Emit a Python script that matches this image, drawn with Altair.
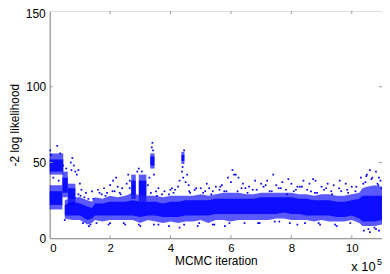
import altair as alt
import pandas as pd

# ---- data (x in units of 1e5 iterations) ----
# main dense band envelope, sampled at band_x
band_x = [0.50, 0.75, 1.00, 1.25, 1.40, 1.50, 1.75, 2.00, 2.25, 2.50, 2.75, 3.00, 3.25,
          3.50, 3.75, 4.00, 4.25, 4.50, 4.75, 5.00, 5.25, 5.50, 5.75, 6.00, 6.25,
          6.50, 6.75, 7.00, 7.25, 7.50, 7.75, 8.00, 8.25, 8.50, 8.75, 9.00, 9.25,
          9.50, 9.75, 10.00, 10.25, 10.35, 10.50, 10.75, 11.00]
band_out_lo = [13, 12, 12, 9, 10, 12, 11, 12, 12, 12, 12, 10, 12, 11, 10, 11, 10, 11, 11, 12, 10,
               12, 12, 11, 12, 12, 12, 12, 12, 13, 13, 12, 12, 12, 11, 12, 11, 11, 11, 12, 10,
               8, 8, 8, 9]
band_out_hi = [25, 27, 27, 25, 24, 27, 26, 28, 27, 28, 30, 28, 28, 28, 27, 28, 28, 28, 28, 29, 28,
               29, 30, 30, 30, 29, 29, 30, 30, 30, 30, 30, 29, 29, 28, 29, 29, 28, 28, 29, 30,
               33, 34, 35, 34]
band_in_lo = [15, 15, 15, 12, 13, 15, 15, 15, 15, 15, 15, 14, 15, 15, 14, 14, 14, 15, 15, 15, 15,
              16, 16, 16, 16, 16, 16, 16, 16, 16, 17, 16, 16, 15, 15, 15, 15, 14, 14, 15, 13,
              11, 11, 11, 12]
band_in_hi = [22, 24, 23, 21, 20, 23, 23, 24, 24, 24, 25, 24, 24, 24, 23, 24, 24, 25, 25, 25, 25,
              26, 26, 26, 26, 26, 26, 27, 27, 27, 27, 27, 26, 26, 25, 25, 25, 24, 24, 25, 26,
              28, 28, 28, 28]

# separate clusters (start, end, outer lo/hi, inner lo/hi)
cl_x0 = [0.00, 0.00, 0.42, 0.60, 2.70, 2.95, 3.33, 4.36]
cl_x1 = [0.45, 0.42, 0.60, 0.85, 2.85, 3.20, 3.47, 4.46]
cl_out_lo = [42, 19, 27, 22, 26, 24, 46, 49]
cl_out_hi = [56, 35, 44, 36, 42, 42, 56, 57]
cl_in_lo = [44, 22, 30, 26, 29, 28, 48, 51]
cl_in_hi = [52, 31, 40, 33, 38, 38, 54, 55]

# scattered samples outside the dense band
pt_x = [0.02, 0.25, 0.05, 0.35, 0.12, 0.30, 0.45, 0.70, 0.75, 0.80, 0.85, 0.90, 0.95, 0.72,
        0.55, 1.00, 1.05, 1.20, 1.40, 1.60, 1.80, 1.90, 2.00, 2.10, 2.20, 2.25, 2.40, 2.55,
        2.60, 2.65, 2.90, 2.95, 3.05, 3.25, 3.30, 3.38, 3.40, 3.42, 3.45, 3.60, 3.80, 4.00,
        4.10, 4.25, 4.30, 4.38, 4.40, 4.42, 4.45, 4.50, 4.55, 4.60, 4.80, 5.00, 5.20, 5.40,
        5.50, 5.70, 5.90, 6.00, 6.05, 6.10, 6.16, 6.25, 6.40, 6.60, 6.80, 7.00, 7.20, 7.40,
        7.50, 7.70, 7.90, 8.00, 8.20, 8.40, 8.60, 8.72, 8.80, 9.00, 9.20, 9.40, 9.60, 9.80,
        10.00, 10.30, 10.50, 10.60, 10.80, 10.90, 10.95,
        0.50, 1.30, 1.35, 2.00, 2.50, 3.00, 3.60, 4.30, 4.90, 5.40, 5.80, 6.90, 7.60, 8.20,
        8.90, 9.50, 10.40, 10.60, 10.80, 10.90,
        0.95, 1.15, 1.45, 1.65, 1.85, 2.15, 2.35, 2.65, 3.35, 3.55, 3.95, 4.15, 4.65, 4.85,
        5.15, 5.35, 5.65, 5.85, 6.35, 6.55, 6.85, 7.15, 7.35, 7.65, 7.85, 8.15, 8.35, 8.65,
        8.85, 9.15, 9.35, 9.65, 9.85, 10.15, 10.45, 10.65, 10.85,
        1.10, 1.55, 1.95, 2.45, 2.95, 3.45, 3.95, 4.45, 4.95, 5.45, 5.95, 6.45, 6.95, 7.45,
        7.95, 8.45, 8.95, 9.45, 9.95, 10.55, 10.75,
        1.02, 1.28, 1.72, 2.08, 2.32, 2.78, 3.52, 3.72, 4.05, 4.62, 5.08, 5.28, 5.62, 5.78,
        6.22, 6.48, 6.72, 7.08, 7.28, 7.58, 7.82, 8.08, 8.28, 8.52, 8.78, 9.08, 9.32, 9.58,
        9.88, 10.12, 10.38, 10.48, 10.68, 10.88, 10.98]
pt_y = [58, 61, 55, 56, 40, 38, 48, 50, 53, 48, 44, 42, 45, 45,
        46, 36, 32, 30, 31, 32, 33, 30, 35, 38, 40, 34, 33, 36,
        42, 38, 44, 46, 44, 35, 40, 60, 63, 58, 42, 33, 31, 32,
        30, 34, 38, 44, 47, 40, 58, 37, 42, 35, 32, 33, 36, 31,
        34, 35, 40, 37, 45, 42, 42, 40, 36, 34, 38, 36, 38, 42,
        35, 37, 39, 36, 34, 38, 36, 39, 38, 34, 36, 35, 38, 36,
        34, 40, 42, 45, 44, 40, 38,
        12, 8, 9, 10, 9, 8, 9, 7, 8, 9, 8, 10, 11, 9,
        10, 8, 5, 4, 6, 5,
        29, 27, 26, 30, 28, 31, 29, 33, 30, 28, 29, 32, 30, 33,
        31, 29, 34, 31, 33, 30, 32, 35, 31, 33, 29, 32, 34, 31,
        30, 33, 29, 31, 32, 34, 37, 39, 36,
        10, 10, 9, 10, 9, 9, 8, 9, 10, 9, 10, 10, 10, 11,
        10, 10, 9, 9, 10, 6, 7,
        28, 26, 29, 31, 30, 34, 31, 29, 33, 31, 30, 33, 32, 31,
        31, 33, 32, 34, 31, 33, 32, 31, 34, 32, 30, 32, 31, 33,
        30, 31, 36, 41, 40, 35, 33]

x_ticks = [0, 2, 4, 6, 8, 10]
y_ticks = [0, 50, 100]
y_top_label = [150]
in_x_ticks = [2, 4, 6, 8, 10]
in_y_ticks = [50, 100]

W, H = 335, 229
BLUE = "#0000ff"
FONT = "Liberation Sans"

band = pd.DataFrame({"x": band_x, "olo": band_out_lo, "ohi": band_out_hi,
                     "ilo": band_in_lo, "ihi": band_in_hi})
clus = pd.DataFrame({"x0": cl_x0, "x1": cl_x1, "olo": cl_out_lo, "ohi": cl_out_hi,
                     "ilo": cl_in_lo, "ihi": cl_in_hi})
pts = pd.DataFrame({"x": pt_x, "y": pt_y})

xs = alt.Scale(domain=[0, 11], nice=False, zero=False)
ys = alt.Scale(domain=[0, 150], nice=False)

xax = alt.Axis(values=x_ticks, ticks=False, domain=True, domainColor="#888888", grid=False,
               labelFont=FONT, labelFontSize=11.5, labelColor="black", labelPadding=4,
               title="MCMC iteration", titleFont=FONT, titleFontSize=12,
               titleFontWeight="normal", titleColor="black",
               titleBaseline="alphabetic", titleY=26)
yax = alt.Axis(values=y_ticks, ticks=False, domain=True, domainColor="#888888", grid=False,
               labelFont=FONT, labelFontSize=12, labelColor="black", labelPadding=4,
               title="-2 log likelihood", titleFont=FONT, titleFontSize=12,
               titleFontWeight="normal", titleColor="black",
               titleBaseline="alphabetic", titleX=-31)

X = lambda f: alt.X(f, scale=xs, axis=xax)
Y = lambda f: alt.Y(f, scale=ys, axis=yax)

outer_band = alt.Chart(band).mark_area(color=BLUE, opacity=0.65).encode(
    x=X("x:Q"), y=Y("olo:Q"), y2="ohi:Q")
inner_band = alt.Chart(band).mark_area(color=BLUE, opacity=0.85).encode(
    x=X("x:Q"), y=Y("ilo:Q"), y2="ihi:Q")

def rects(lo, hi, op):
    return alt.Chart(clus).mark_rect(color=BLUE, opacity=op).encode(
        x=X("x0:Q"), x2="x1:Q", y=Y(f"{lo}:Q"), y2=f"{hi}:Q")

outer_cl = rects("olo", "ohi", 0.65)
inner_cl = rects("ilo", "ihi", 0.85)

points = alt.Chart(pts).mark_square(color=BLUE, size=3, opacity=1).encode(
    x=X("x:Q"), y=Y("y:Q"))

xt = pd.DataFrame({"v": in_x_ticks})
yt = pd.DataFrame({"v": in_y_ticks})
tick_style = dict(color="#999999", strokeWidth=1)
xt_bot = alt.Chart(xt).mark_rule(**tick_style).encode(
    x=X("v:Q"), y=alt.value(H - 3), y2=alt.value(H))
xt_top = alt.Chart(xt).mark_rule(**tick_style).encode(
    x=X("v:Q"), y=alt.value(0), y2=alt.value(3))
yt_left = alt.Chart(yt).mark_rule(**tick_style).encode(
    y=Y("v:Q"), x=alt.value(0), x2=alt.value(3))
yt_right = alt.Chart(yt).mark_rule(**tick_style).encode(
    y=Y("v:Q"), x=alt.value(W - 3), x2=alt.value(W))

top_lab = alt.Chart(pd.DataFrame({"v": y_top_label})).mark_text(
    font=FONT, fontSize=12, align="right", baseline="middle", dy=3, color="black").encode(
    text="v:Q", y=Y("v:Q"), x=alt.value(-4))

mult = alt.Chart(pd.DataFrame({"t": ["x 10"]})).mark_text(
    font=FONT, fontSize=13, align="left", baseline="alphabetic", color="black").encode(
    text="t:N", x=alt.value(304), y=alt.value(H + 33))
sup = alt.Chart(pd.DataFrame({"t": ["5"]})).mark_text(
    font=FONT, fontSize=9, align="left", baseline="alphabetic", color="black").encode(
    text="t:N", x=alt.value(330), y=alt.value(H + 27))

chart = alt.layer(outer_band, inner_band, outer_cl, inner_cl, points,
                  xt_bot, xt_top, yt_left, yt_right, top_lab, mult, sup).properties(
    width=W, height=H,
    autosize=alt.AutoSizeParams(type="none"),
    padding={"left": 42, "top": 2, "right": 0, "bottom": 34},
).configure_view(stroke="#222222", strokeWidth=1).configure(background="white")

chart.save("out.html", embed_options={"renderer": "svg", "actions": False})
